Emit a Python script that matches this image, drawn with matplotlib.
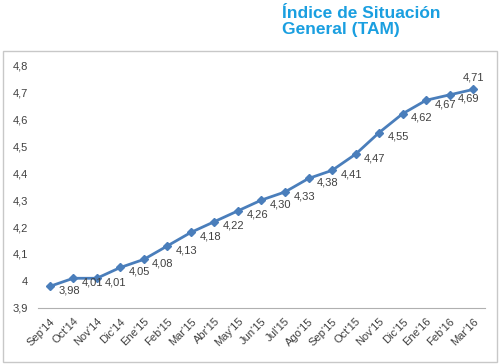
import matplotlib
matplotlib.use('Agg')
from matplotlib import pyplot as plt
from matplotlib.patches import Rectangle
from matplotlib.ticker import FuncFormatter
import numpy as np

months = ["Sep'14", "Oct'14", "Nov'14", "Dic'14", "Ene'15", "Feb'15", "Mar'15",
          "Abr'15", "May'15", "Jun'15", "Jul'15", "Ago'15", "Sep'15", "Oct'15",
          "Nov'15", "Dic'15", "Ene'16", "Feb'16", "Mar'16"]
values = [3.98, 4.01, 4.01, 4.05, 4.08, 4.13, 4.18, 4.22, 4.26, 4.30,
          4.33, 4.38, 4.41, 4.47, 4.55, 4.62, 4.67, 4.69, 4.71]
yticks = [3.9, 4.0, 4.1, 4.2, 4.3, 4.4, 4.5, 4.6, 4.7, 4.8]

plt.rcParams['font.family'] = ['Liberation Sans', 'DejaVu Sans']

line_col = '#4a7ebb'
text_col = '#404040'

fig = plt.figure(figsize=(5, 3.64), dpi=100)
fig.patch.set_facecolor('white')

# chart border
fig.patches.append(Rectangle((3 / 500, 2 / 364), 494 / 500, 311 / 364,
                             transform=fig.transFigure, fill=False,
                             edgecolor='#c8c8c8', linewidth=1))

ax = fig.add_axes([0.076, 0.154, 0.894, 0.667])
x = np.arange(len(months))
ax.plot(x, values, color=line_col, linewidth=2, marker='D', markersize=4.5,
        markerfacecolor=line_col, markeredgecolor=line_col)

for i, v in enumerate(values):
    lbl = f'{v:.2f}'.replace('.', ',')
    if i == len(values) - 1:
        ax.annotate(lbl, (i, v), xytext=(0, 5), textcoords='offset points',
                    ha='center', va='bottom', fontsize=8, color=text_col)
    else:
        ax.annotate(lbl, (i, v), xytext=(6, -3), textcoords='offset points',
                    ha='left', va='center', fontsize=8, color=text_col)

ax.set_xlim(-0.5, len(months) - 0.5)
ax.set_ylim(3.9, 4.8)
ax.set_yticks(yticks)
ax.yaxis.set_major_formatter(FuncFormatter(lambda v, p: f'{v:g}'.replace('.', ',')))
ax.set_xticks(x)
ax.set_xticklabels(months, rotation=45, ha='right', rotation_mode='anchor')
ax.tick_params(axis='both', length=0, labelsize=8, colors=text_col)
ax.tick_params(axis='x', pad=6)
ax.tick_params(axis='y', pad=7)

for s in ['top', 'right', 'left']:
    ax.spines[s].set_visible(False)
ax.spines['bottom'].set_color('#b0b0b0')

fig.text(282 / 500, 1 - 6 / 364, 'Índice de Situación\nGeneral (TAM)',
         ha='left', va='top', fontsize=12.5, fontweight='bold',
         color='#1a9fe0', linespacing=1.1)

fig.savefig('out.png', dpi=100)
